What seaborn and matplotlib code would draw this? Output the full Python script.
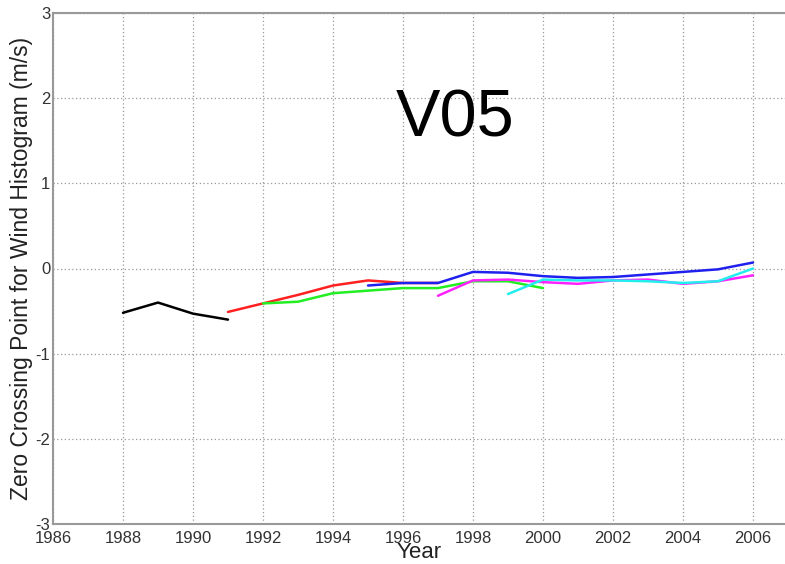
import numpy as np
import pandas as pd
import seaborn as sns
import matplotlib
matplotlib.use('Agg')
import matplotlib.pyplot as plt

# values
years_black = [1988, 1989, 1990, 1991]
vals_black = [-0.52, -0.40, -0.53, -0.60]

years_red = [1991, 1992, 1993, 1994, 1995, 1996, 1997]
vals_red = [-0.51, -0.41, -0.31, -0.20, -0.14, -0.17, -0.17]

years_green = [1992, 1993, 1994, 1995, 1996, 1997, 1998, 1999, 2000]
vals_green = [-0.41, -0.39, -0.29, -0.26, -0.23, -0.23, -0.15, -0.15, -0.23]

years_blue = [1995, 1996, 1997, 1998, 1999, 2000, 2001, 2002, 2003, 2004, 2005, 2006]
vals_blue = [-0.20, -0.17, -0.17, -0.04, -0.05, -0.09, -0.11, -0.10, -0.07, -0.04, -0.01, 0.07]

years_magenta = [1997, 1998, 1999, 2000, 2001, 2002, 2003, 2004, 2005, 2006]
vals_magenta = [-0.32, -0.14, -0.13, -0.16, -0.18, -0.14, -0.13, -0.18, -0.15, -0.08]

years_cyan = [1999, 2000, 2001, 2002, 2003, 2004, 2005, 2006]
vals_cyan = [-0.30, -0.13, -0.14, -0.14, -0.15, -0.17, -0.15, 0.00]

series = [
    (years_black, vals_black, 'black'),
    (years_red, vals_red, '#ff2020'),
    (years_green, vals_green, '#22ee22'),
    (years_blue, vals_blue, '#2020ee'),
    (years_magenta, vals_magenta, '#ff22ff'),
    (years_cyan, vals_cyan, '#22eeee'),
]

sns.set_style('white')
plt.rcParams['font.family'] = ['Liberation Sans', 'DejaVu Sans']
plt.rcParams['axes.unicode_minus'] = False

fig = plt.figure(figsize=(7.85, 5.64), dpi=100)
# axes reaches past the right edge, as in the cropped original
ax = fig.add_axes([53 / 785, 40 / 564, 770 / 785, 511 / 564])

for yrs, vals, col in series:
    sns.lineplot(x=yrs, y=vals, color=col, linewidth=1.8, ax=ax)

ax.set_xlim(1986, 2008)
ax.set_ylim(-3, 3)
ax.set_xticks(np.arange(1986, 2007, 2))
ax.set_yticks(np.arange(-3, 4, 1))
ax.grid(True, color='#999999', linestyle=(0, (1, 2)), linewidth=0.9)
for s in ax.spines.values():
    s.set_color('#999999')
    s.set_linewidth(1.5)
ax.tick_params(axis='both', colors='#999999', labelcolor='#333333',
               labelsize=12, direction='in', length=4, pad=2)
ax.tick_params(axis='x', pad=5)

ax.set_xlabel('Year', fontsize=16, color='#222222')
ax.set_ylabel('Zero Crossing Point for Wind Histogram (m/s)', fontsize=16.5,
              color='#222222', labelpad=2)
ax.xaxis.label.set_verticalalignment('center')
ax.xaxis.set_label_coords((419 - 53) / 770, -(553 - 524) / 511)

ax.text(1997.5, 1.75, 'V05', fontsize=48, ha='center', va='center', color='black')

fig.savefig('out.png', dpi=100)
